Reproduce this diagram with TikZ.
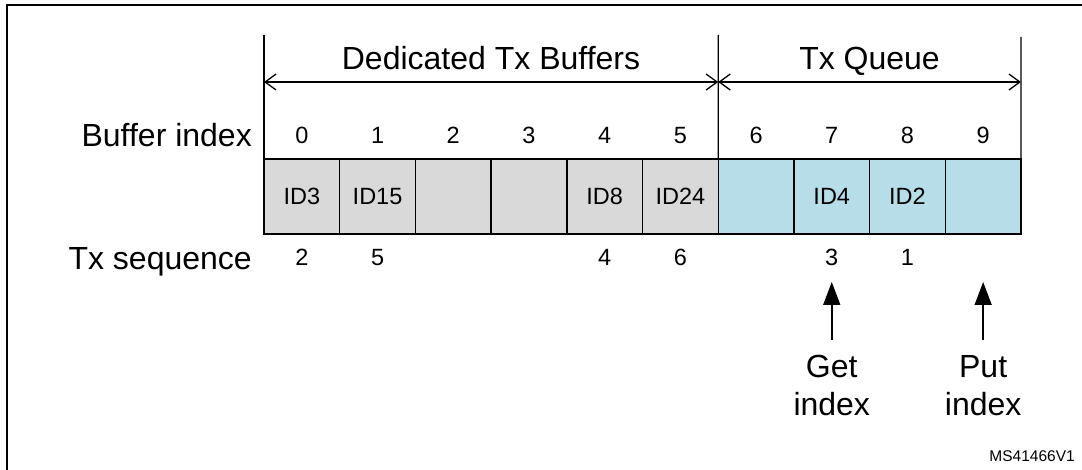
\documentclass[tikz,border=0pt]{standalone}
\usepackage{fontspec}
\setmainfont{Liberation Sans}
\usetikzlibrary{arrows.meta}
\definecolor{bufgray}{RGB}{217,217,217}
\definecolor{qblue}{RGB}{183,222,232}
\begin{document}
\begin{tikzpicture}[x=1pt,y=-1pt,
  cell/.style={draw, line width=1.4pt, minimum width=75.7pt, minimum height=75pt, inner sep=0pt, outer sep=0pt, font=\fontsize{23.5}{28}\selectfont},
  small/.style={font=\fontsize{23.5}{28}\selectfont, inner sep=0pt},
  big/.style={font=\fontsize{32}{38}\selectfont, inner sep=0pt},
  guide/.style={line width=1.3pt},
  span/.style={line width=1.3pt, {Straight Barb[length=11pt,width=16pt]}-{Straight Barb[length=11pt,width=16pt]}},
  pointer/.style={line width=1.5pt, -{Triangle[length=23pt,width=17pt]}}
]
\useasboundingbox (0,0) rectangle (1082,470);
% frame
\draw[line width=2pt] (7,480) -- (7,5.3) -- (1090,5.3);
% cells
\foreach \i/\t/\c/\s in {0/ID3/bufgray/2, 1/ID15/bufgray/5, 2/{}/bufgray/{}, 3/{}/bufgray/{}, 4/ID8/bufgray/4, 5/ID24/bufgray/6, 6/{}/qblue/{}, 7/ID4/qblue/3, 8/ID2/qblue/1, 9/{}/qblue/{}} {
  \node[cell, fill=\c] (c\i) at ({264+75.7*(\i+0.5)},196.5) {\t};
  \node[small, anchor=base] (n\i) at ({264+75.7*(\i+0.5)},143.5) {\i};
  \node[small, anchor=base] (s\i) at ({264+75.7*(\i+0.5)},265.5) {\s};
}
% guide lines
\coordinate (tL) at (264,35);
\coordinate (tM) at (718.2,35);
\coordinate (tR) at (1021,37);
\draw[guide] (tL) -- (c0.north west);
\draw[guide] (tM) -- (c5.north east);
\draw[guide] (tR) -- (c9.north east);
% span arrows
\coordinate (aL) at (264,82);
\coordinate (aM) at (718.2,82);
\coordinate (aR) at (1021,82);
\draw[span] (aM) -- (aL);
\draw[span] (aM) -- (aR);
% headings
\node[big, anchor=base] (hd) at (491,70) {Dedicated Tx Buffers};
\node[big, anchor=base] (hq) at (869.5,70) {Tx Queue};
\node[big, anchor=base east] (bi) at (252,147) {Buffer index};
\node[big, anchor=base east] (ts) at (252,270) {Tx sequence};
% pointers
\node[big, align=center, anchor=north] (get) at (c7.center |- 0,355) {Get\\index};
\node[big, align=center, anchor=north] (put) at (c9.center |- 0,355) {Put\\index};
\draw[pointer] ([yshift=15pt]get.north) -- ([yshift=73pt]get.north);
\draw[pointer] ([yshift=15pt]put.north) -- ([yshift=73pt]put.north);
% code
\node[font=\fontsize{15.5}{18}\selectfont, anchor=base east, inner sep=0pt] (ms) at (1075,461) {MS41466V1};
\end{tikzpicture}
\end{document}
